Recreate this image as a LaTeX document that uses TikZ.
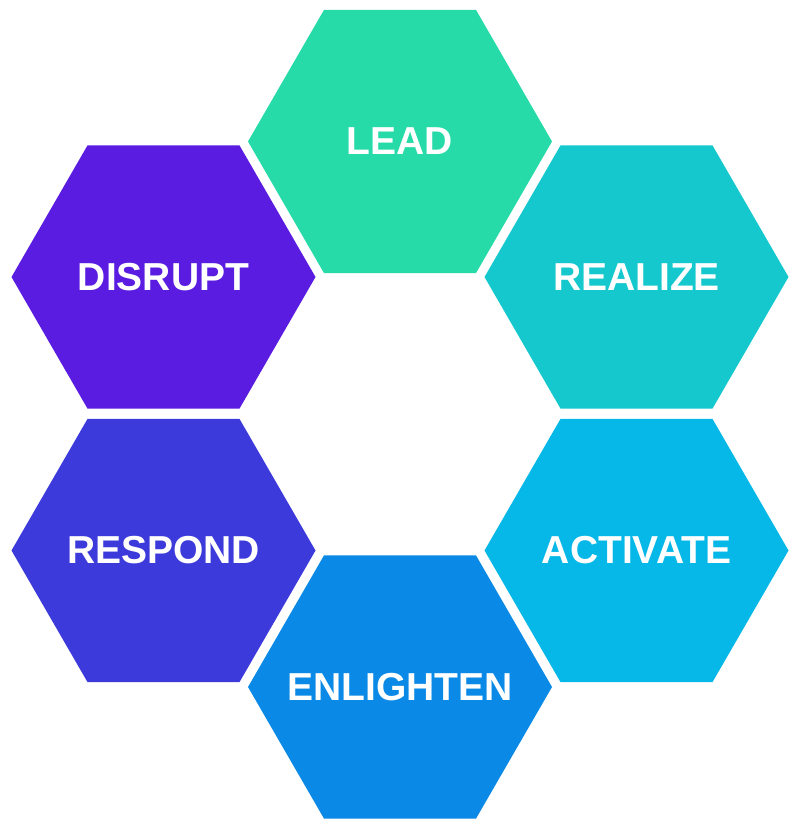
\documentclass[tikz,border=0pt]{standalone}
\usepackage{fontspec}
\setmainfont{Liberation Sans}
\definecolor{cLead}{HTML}{27DBA8}
\definecolor{cDisrupt}{HTML}{5A1CE0}
\definecolor{cRealize}{HTML}{14C8CE}
\definecolor{cRespond}{HTML}{3D3ADB}
\definecolor{cActivate}{HTML}{05B8E8}
\definecolor{cEnlighten}{HTML}{0A8AE6}
\tikzset{
  hexlabel/.style={text=white, inner sep=0pt, font=\fontsize{39}{44}\selectfont\bfseries}
}
\newcommand{\myhex}[4]{%
  \fill[#3] ($(#1,#2)+(152,0)$) -- ($(#1,#2)+(76,131.6)$) -- ($(#1,#2)+(-76,131.6)$)
    -- ($(#1,#2)+(-152,0)$) -- ($(#1,#2)+(-76,-131.6)$) -- ($(#1,#2)+(76,-131.6)$) -- cycle;
  \node[hexlabel] (#4) at (#1,#2) {\MakeUppercase{#4}};
}
\usetikzlibrary{calc}
\begin{document}
\begin{tikzpicture}[x=1pt,y=-1pt]
\useasboundingbox[fill=white] (0,0) rectangle (800,829);
\myhex{400}{141.5}{cLead}{Lead}
\myhex{163.5}{277}{cDisrupt}{Disrupt}
\myhex{636.5}{277}{cRealize}{Realize}
\myhex{163.5}{550.5}{cRespond}{Respond}
\myhex{636.5}{550.5}{cActivate}{Activate}
\myhex{400}{687}{cEnlighten}{Enlighten}
\end{tikzpicture}
\end{document}
